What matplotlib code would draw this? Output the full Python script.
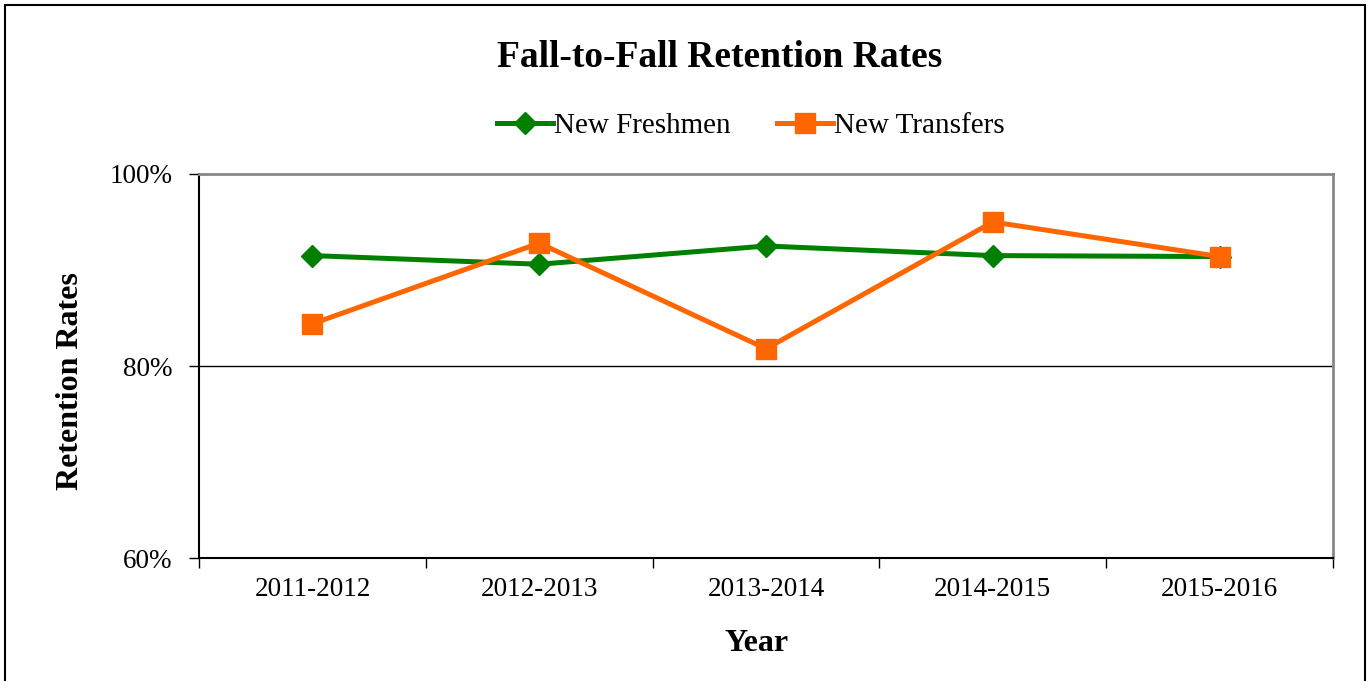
import matplotlib
matplotlib.use("Agg")
import matplotlib.pyplot as plt
from matplotlib.patches import Rectangle
from matplotlib.ticker import FuncFormatter

years = ["2011-2012", "2012-2013", "2013-2014", "2014-2015", "2015-2016"]
freshmen = [91.5, 90.6, 92.5, 91.5, 91.4]
transfers = [84.4, 92.8, 81.8, 95.0, 91.4]

plt.rcParams['font.family'] = ['Liberation Serif', 'DejaVu Serif']

fig = plt.figure(figsize=(13.69, 6.81), dpi=100)
ax = fig.add_axes([0.1454, 0.1806, 0.8283, 0.5639])

x = range(len(years))
ax.plot(x, freshmen, color='#008000', lw=3.6, marker='D', ms=11, label='New Freshmen')
ax.plot(x, transfers, color='#FF6600', lw=3.6, marker='s', ms=14, label='New Transfers')

ax.set_xlim(-0.5, len(years) - 0.5)
ax.set_ylim(60, 100)
ax.set_yticks([60, 80, 100])
ax.yaxis.set_major_formatter(FuncFormatter(lambda v, p: f"{v:.0f}%"))
ax.set_xticks(x)
ax.set_xticklabels(years)
ax.set_xticks([i - 0.5 for i in range(len(years) + 1)], minor=True)
ax.tick_params(axis='x', which='major', length=0, pad=14, labelsize=19.5)
ax.tick_params(axis='x', which='minor', length=7, direction='out', width=1)
ax.tick_params(axis='y', length=7, direction='out', width=1, labelsize=19.5, pad=12)

ax.axhline(80, color='black', lw=1, zorder=0)
for s in ['top', 'right']:
    ax.spines[s].set_color('#888888')
    ax.spines[s].set_linewidth(2)
for s in ['left', 'bottom']:
    ax.spines[s].set_color('black')
    ax.spines[s].set_linewidth(1.5)

ax.set_xlabel("Year", fontsize=23, fontweight='bold')
ax.xaxis.set_label_coords(0.492, -0.186)
ax.set_ylabel("Retention Rates", fontsize=23, fontweight='bold')
ax.yaxis.set_label_coords(-0.101, 0.46)

fig.text(0.526, 0.915, "Fall-to-Fall Retention Rates", ha='center', va='center',
         fontsize=27, fontweight='bold')
fig.legend(loc='center', bbox_to_anchor=(0.5486, 0.815), ncol=2, frameon=False,
           fontsize=21, handlelength=1.9, handletextpad=0.05, columnspacing=1.6)

fig.add_artist(Rectangle((5 / 1369, -0.01), 1360 / 1369, 1 - 5 / 681 + 0.01,
                         transform=fig.transFigure, fill=False, ec='black', lw=1.5))

fig.savefig("out.png", dpi=100)
